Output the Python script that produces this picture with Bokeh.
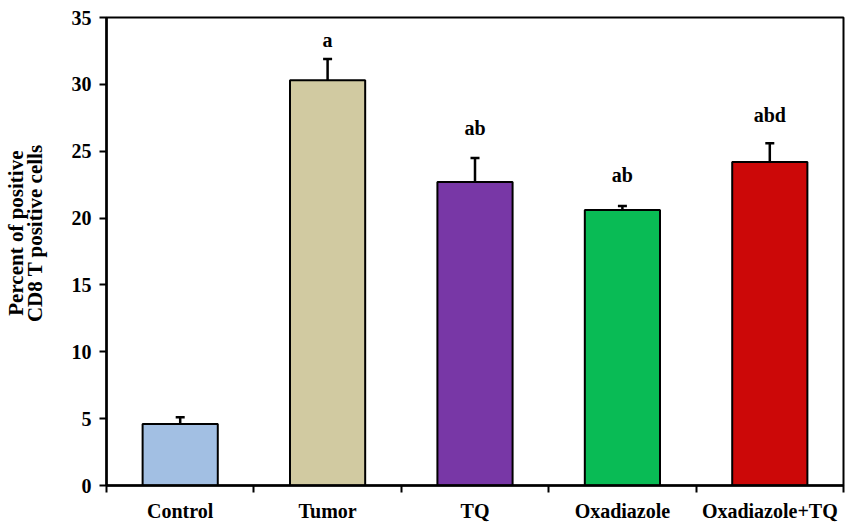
from bokeh.plotting import figure
from bokeh.models import Range1d, FixedTicker, Whisker, TeeHead, ColumnDataSource
from bokeh.core.properties import value
from bokeh.embed import file_html
from bokeh.resources import INLINE

categories = ["Control", "Tumor", "TQ", "Oxadiazole", "Oxadiazole+TQ"]
means = [4.6, 30.3, 22.7, 20.6, 24.2]
errors = [0.5, 1.6, 1.8, 0.3, 1.4]
sig_letters = ["", "a", "ab", "ab", "abd"]
sig_label_y = [0, 33.35, 26.7, 23.2, 27.7]
colors = ["#A2BFE3", "#D1CAA1", "#7837A6", "#09BB55", "#CC0808"]
y_ticks = [0, 5, 10, 15, 20, 25, 30, 35]
y_title_lines = ["Percent of positive", "CD8 T positive cells"]

FONT = "Liberation Serif"
xs = list(range(len(categories)))

src = ColumnDataSource(dict(
    x=xs, top=means, color=colors,
    upper=[m + e for m, e in zip(means, errors)],
))

p = figure(width=845, height=524, output_backend="svg", toolbar_location=None,
           x_range=Range1d(-0.5, len(categories) - 0.5), y_range=Range1d(0, 35),
           min_border_left=106, min_border_right=2, min_border_top=17, min_border_bottom=39)
p.grid.visible = False
p.outline_line_color = "black"
p.outline_line_width = 2
p.background_fill_color = "white"
p.border_fill_color = "white"

p.vbar(x="x", top="top", width=0.51, bottom=0, source=src, fill_color="color",
       line_color="black", line_width=2)

w = Whisker(base="x", lower="top", upper="upper", source=src, line_color="black",
            line_width=2.5, lower_head=None,
            upper_head=TeeHead(size=9, line_color="black", line_width=2.5))
p.add_layout(w)

lab_src = ColumnDataSource(dict(x=xs, y=sig_label_y, t=sig_letters))
p.text(x="x", y="y", text="t", source=lab_src, text_align="center",
       text_baseline="alphabetic", text_font=value(FONT), text_font_style="bold",
       text_font_size="20px", text_color="black")

# y axis
ya = p.yaxis[0]
ya.ticker = FixedTicker(ticks=y_ticks)
ya.minor_tick_line_color = None
ya.major_tick_in = 0
ya.major_tick_out = 7
ya.major_tick_line_width = 2
ya.axis_line_width = 2.5
ya.major_label_standoff = 8
ya.major_label_text_font = FONT
ya.major_label_text_font_style = "bold"
ya.major_label_text_font_size = "20px"
ya.major_label_text_color = "black"
pad = "\u00a0" * 7  # nudges the centred title slightly upward, as in the reference
ya.axis_label = "\n".join(pad + line for line in y_title_lines)
ya.axis_label_standoff = 22
ya.axis_label_text_font = FONT
ya.axis_label_text_font_style = "bold"
ya.axis_label_text_font_size = "21px"
ya.axis_label_text_color = "black"
ya.axis_label_text_line_height = 0.77

# x axis
xa = p.xaxis[0]
xa.ticker = FixedTicker(ticks=xs, minor_ticks=[i - 0.5 for i in range(len(categories) + 1)])
xa.major_label_overrides = {i: c for i, c in zip(xs, categories)}
xa.major_tick_in = 0
xa.major_tick_out = 0
xa.minor_tick_in = 0
xa.minor_tick_out = 7
xa.minor_tick_line_width = 2
xa.axis_line_width = 2.5
xa.major_label_standoff = 7
xa.major_label_text_font = FONT
xa.major_label_text_font_style = "bold"
xa.major_label_text_font_size = "20px"
xa.major_label_text_color = "black"

open("out.html", "w").write(file_html(p, INLINE))
